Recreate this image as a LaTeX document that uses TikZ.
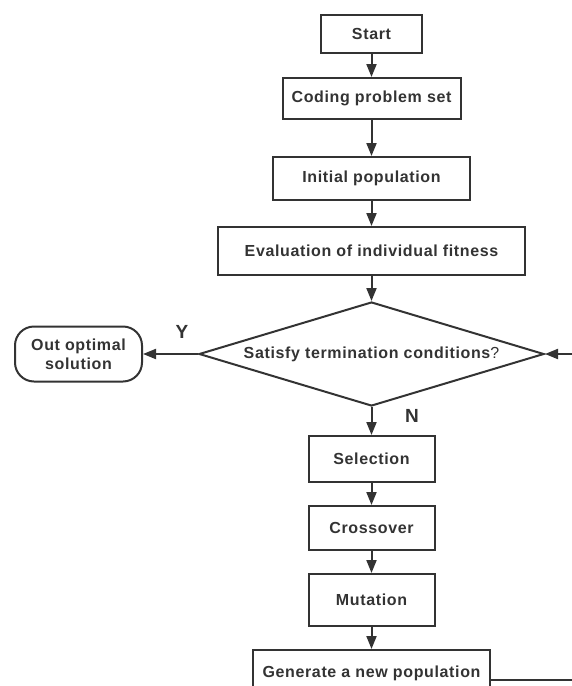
\documentclass[tikz,border=0pt]{standalone}
\usepackage{fontspec}
\setmainfont{Liberation Sans}[LetterSpace=4.0]
\usepackage{tikz}
\usetikzlibrary{positioning}
\usetikzlibrary{arrows.meta,shapes.geometric}
\definecolor{inkgray}{HTML}{333333}

\begin{document}
\begin{tikzpicture}[x=1pt, y=-1pt,
    every node/.style={text=inkgray, font=\fontsize{16}{19}\selectfont\bfseries},
    procbox/.style={rectangle, draw=inkgray, line width=2pt, inner sep=2pt},
    endbox/.style={rectangle, draw=inkgray, line width=2pt, rounded corners=19pt, align=center, inner sep=2pt},
    decision/.style={diamond, draw=inkgray, line width=2pt, inner sep=0pt, aspect=3.3},
    flow/.style={draw=inkgray, line width=2pt, -{Triangle[length=13pt, width=10pt]}},
    yn/.style={font=\fontsize{19}{22}\selectfont\bfseries}]

  \useasboundingbox (0,0) rectangle (571,686);

  % Define nodes
  \node[procbox, minimum width=101pt, minimum height=38pt] (start) at (371.5,34) {Start};
  \node[procbox, below=23pt of start, minimum width=178pt, minimum height=41pt] (coding) {Coding problem set};
  \node[procbox, below=36pt of coding, minimum width=197pt, minimum height=43pt] (init) {Initial population};
  \node[procbox, below=25pt of init, minimum width=307pt, minimum height=48pt] (eval) {Evaluation of individual fitness};

  % Termination test
  \node[decision, below=25pt of eval, minimum width=345pt, minimum height=104pt] (cond) {Satisfy termination conditions{\mdseries ?}};
  \node[endbox, left=55pt of cond, minimum width=127pt, minimum height=55pt] (out) {Out optimal\\solution};

  % Genetic operators
  \node[procbox, below=28pt of cond, minimum width=126pt, minimum height=46pt] (sel) {Selection};
  \node[procbox, below=22pt of sel, minimum width=126pt, minimum height=44pt] (cross) {Crossover};
  \node[procbox, below=22pt of cross, minimum width=126pt, minimum height=52pt] (mut) {Mutation};
  \node[procbox, below=22pt of mut, minimum width=237pt, minimum height=47pt] (gen) {Generate a new population};

  % Labels
  \node[yn] (ylabel) at (182,332) {Y};
  \node[yn] (nlabel) at (412,416) {N};

  % Loop ends
  \coordinate (loopin) at ([xshift=30pt]cond.east);
  \coordinate (loopout) at ([xshift=90pt, yshift=-6.5pt]gen.east);

  \draw [flow] (start) -- (coding);
  \draw [flow] (coding) -- (init);
  \draw [flow] (init) -- (eval);
  \draw [flow] (eval) -- (cond);
  \draw [flow] (cond) -- (out);
  \draw [flow] (cond) -- (sel);
  \draw [flow] (sel) -- (cross);
  \draw [flow] (cross) -- (mut);
  \draw [flow] (mut) -- (gen);

  \draw [flow] (loopin) -- (cond.east);
  \draw [draw=inkgray, line width=2pt] ([yshift=-6.5pt]gen.east) -- (loopout);

\end{tikzpicture}
\end{document}
